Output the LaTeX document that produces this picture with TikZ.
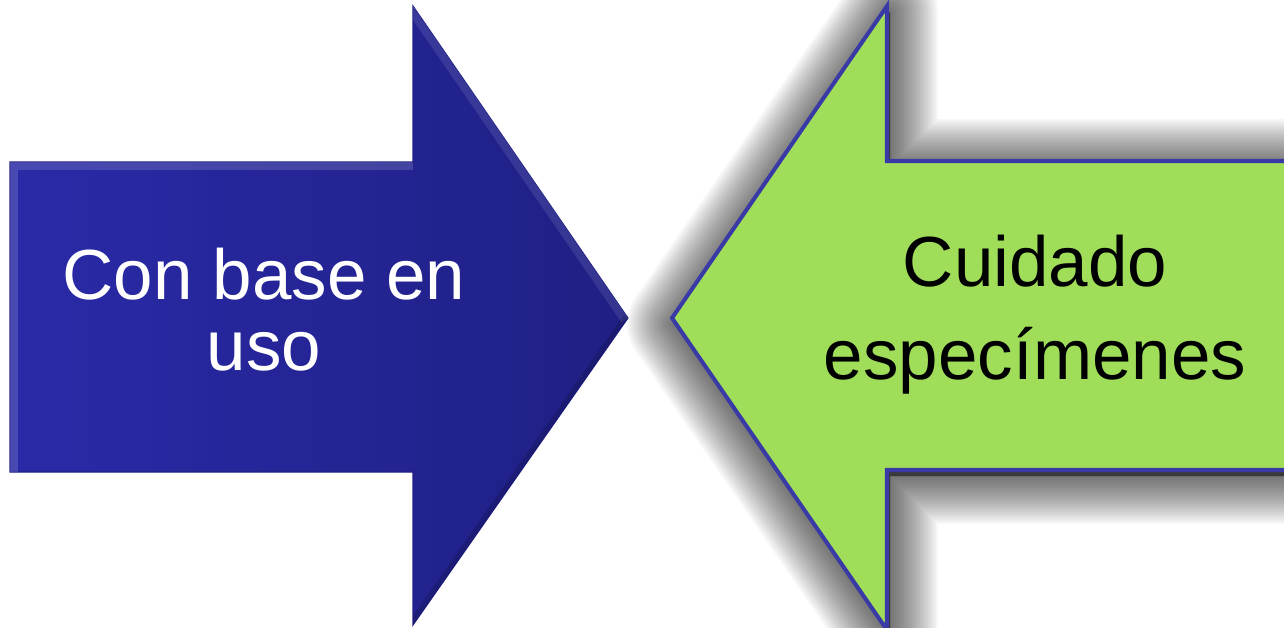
\documentclass[tikz,border=0pt]{standalone}
\usepackage{fontspec}
\setmainfont{Liberation Sans}
\usepackage{tikz}
\usetikzlibrary{shapes, arrows}
\definecolor{usoblue}{RGB}{42,42,168}
\definecolor{usoblueDark}{RGB}{31,31,132}
\definecolor{cuidgreen}{RGB}{160,222,90}
\definecolor{cuidedge}{RGB}{58,58,166}
\tikzstyle{bluearrow} =
        [
                left color = usoblue,
                right color = usoblueDark,
                draw = usoblueDark,
                line width = 0.6pt,
                line join = miter
        ]
\tikzstyle{greenarrow} =
        [
                fill = cuidgreen,
                draw = cuidedge,
                line width = 2.3pt,
                line join = miter
        ]
\tikzstyle{glow} =
        [
                draw = black,
                fill = black,
                opacity = 0.03,
                line join = round
        ]
\tikzstyle{label} =
        [
                align = center,
                inner sep = 0pt,
                font = \fontsize{40.4}{40.4}\selectfont
        ]

\begin{document}
\begin{tikzpicture}[x = 0.02cm, y = -0.02cm]
	        \useasboundingbox (0,0) rectangle (1284,627);
	        \clip (0,0) rectangle (1284,627);
	        % shadow behind the green arrow
	        \foreach \w in {4,8,...,96}
	                \path [glow, line width = \w*0.567pt, shift = {(3,6)}]
	                        (1320,161) -- (887,161) -- (887,6) -- (672,318) -- (887,630) -- (887,470) -- (1320,470) -- cycle;
	        % blue arrow
	        \path [bluearrow] (10,162) -- (413,162) -- (413,6) -- (628,318) -- (413,625) -- (413,472) -- (10,472) -- cycle;
	        \begin{scope}
	                \clip (10,162) -- (413,162) -- (413,6) -- (628,318) -- (413,625) -- (413,472) -- (10,472) -- cycle;
	                \draw [white, opacity = 0.15, line width = 9pt] (10,472) -- (10,162) -- (413,162);
	                \draw [white, opacity = 0.1, line width = 9pt] (413,6) -- (628,318);
	                \draw [black, opacity = 0.15, line width = 6pt] (628,318) -- (413,625);
	        \end{scope}
	        % green arrow
	        \path [greenarrow] (1320,161) -- (887,161) -- (887,6) -- (672,318) -- (887,630) -- (887,470) -- (1320,470) -- cycle;
	        \node [label, text = white] (uso) at (264,310) {Con base en\\uso};
	        \node [label, font = \fontsize{40.4}{52.9}\selectfont] (cuidado) at (1035,315) {Cuidado\\especímenes};
		\end{tikzpicture}
\end{document}
